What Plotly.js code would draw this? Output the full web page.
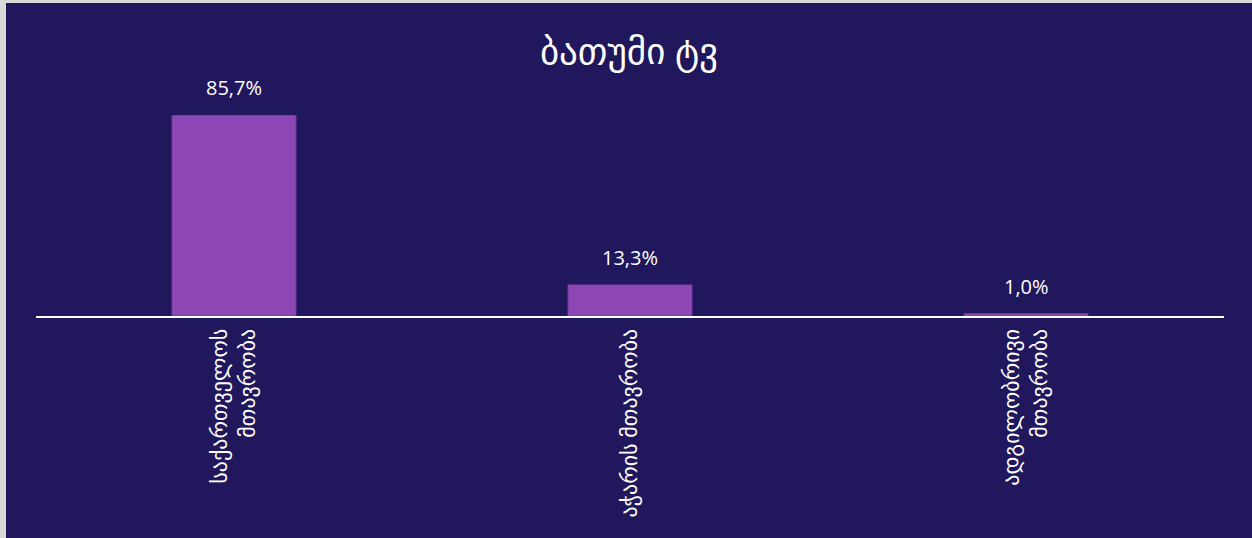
<!DOCTYPE html>
<html>
<head>
<meta charset="utf-8">
<script src="https://cdn.plot.ly/plotly-3.0.1.min.js"></script>
<style>
  html, body { margin: 0; padding: 0; background: #d9d9d9; width: 1252px; height: 538px; overflow: hidden; }
  #chart { position: absolute; left: 6px; top: 3px; width: 1246px; height: 535px; }
</style>
</head>
<body>
<div id="chart"></div>
<script>
const categories = ['საქართველოს<br>მთავრობა', 'აჭარის მთავრობა', 'ადგილობრივი<br>მთავრობა'];
const values = [85.7, 13.3, 1.0];
const valueLabels = values.map(v => v.toFixed(1).replace('.', ',') + '%');
const chartTitle = 'ბათუმი ტვ';

const bg = '#20175c';
const barColor = '#8e48b5';
const fontFamily = 'Open Sans, DejaVu Sans, sans-serif';

const trace = {
  type: 'bar',
  x: categories,
  y: values,
  marker: { color: barColor, line: { color: '#7a3aa3', width: 1 } },
  hoverinfo: 'none'
};

const annotations = categories.map((c, i) => ({
  x: c, y: values[i], xref: 'x', yref: 'y',
  text: valueLabels[i], showarrow: false,
  yanchor: 'bottom', yshift: 12,
  font: { family: fontFamily, size: 20, color: '#ffffff' }
}));

const layout = {
  width: 1246, height: 535,
  paper_bgcolor: bg, plot_bgcolor: bg,
  margin: { l: 30, r: 28, t: 79, b: 222 },
  bargap: 0.687,
  showlegend: false,
  title: {
    text: chartTitle,
    font: { family: fontFamily, size: 37, color: '#ffffff' },
    x: 0.5, xanchor: 'center',
    y: 1 - 48 / 535, yanchor: 'middle', yref: 'container'
  },
  xaxis: {
    type: 'category',
    showline: true, linecolor: '#ffffff', linewidth: 2,
    ticks: '', tickangle: -90, ticklabelstandoff: 2,
    tickfont: { family: fontFamily, size: 22, color: '#ffffff' },
    showgrid: false, zeroline: false
  },
  yaxis: {
    range: [0, 100], visible: false, showgrid: false, zeroline: false
  },
  annotations: annotations
};

Plotly.newPlot('chart', [trace], layout, { displayModeBar: false, staticPlot: true });
</script>
</body>
</html>
